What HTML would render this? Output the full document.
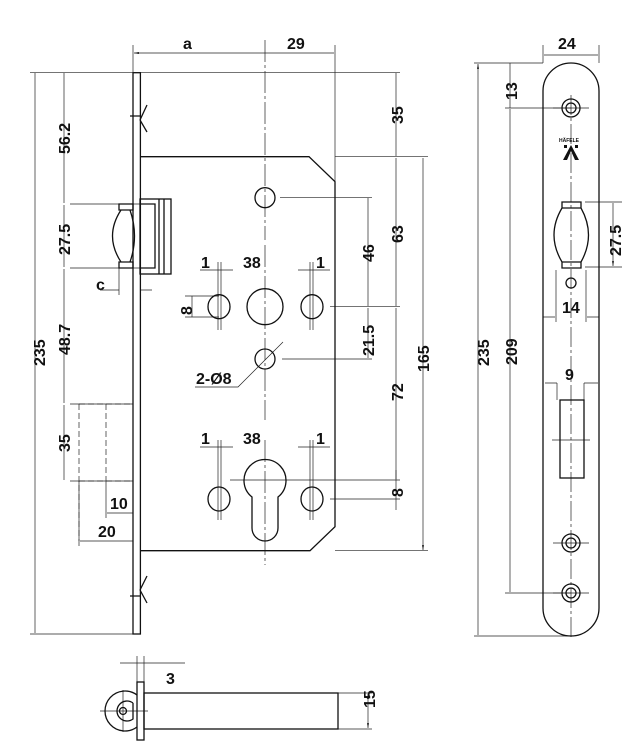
<!DOCTYPE html>
<html><head><style>body{margin:0;background:#fff}svg{display:block}text{font-family:"Liberation Sans",Arial,sans-serif;font-weight:bold;font-size:16px;fill:#111}</style></head>
<body>
<svg width="642" height="756" viewBox="0 0 642 756" xmlns="http://www.w3.org/2000/svg">
<defs><marker id="a" viewBox="0 0 10 10" refX="10" refY="5" markerWidth="7" markerHeight="7" orient="auto-start-reverse"><path d="M0,3 L10,5 L0,7z" fill="#111"/></marker></defs>
<g fill="none" stroke="#222" stroke-width="0.7">
<path d="M30,72.7H140 M140,72.7H400 M335,45V181 M133,45V72 M335,156.7H428 M280,197.7H372 M330,306.7H400 M282,359H372 M230,480H400 M330,499H400 M335,550.7H428 M30,634H133 M70,204H140 M70,268H140 M70,404H133 M70,481H133 M106,481V518 M79,481V546 M119,265V295"/>
<g marker-start="url(#a)" marker-end="url(#a)">
<path d="M134,53H265 M265,53H334 M35,73V633 M64,73V203 M64,205V267 M64,269V403 M64,405V480 M396,73V156 M396,158V306 M396,308V479 M368,198V306 M368,308V358 M423,158V550"/>
</g>
<path d="M396,480V499 M396,470V510 M107,513H133 M80,541H133 M100,290H119 M140,290H152"/>
<path d="M200,270H233 M298,270H330 M200,447H233 M298,447H330 M218,262V330 M221,262V330 M310,262V330 M313,262V330 M218,440V520 M221,440V520 M310,440V520 M313,440V520" />
<path d="M185,296H219 M185,317H219 M192,296V317" />
<path d="M283,342 L238,387 H195"/>
<path d="M265,40V240" stroke-dasharray="22,3,3,3"/>
<path d="M265,245V420" stroke-dasharray="22,3,3,3"/>
<path d="M265,440V565" stroke-dasharray="22,3,3,3"/>
<path d="M79,404V541 M106,404V481 M79,404H133 M79,481H133" stroke-dasharray="6,3"/>
</g>
<g fill="none" stroke="#111" stroke-width="1.3">
<rect x="133" y="72.7" width="7.4" height="561.3"/>
<path d="M140,156.7H309L335,181.7V526.7L310,550.7H140"/>
<circle cx="265" cy="197.7" r="10"/>
<circle cx="265" cy="306.7" r="18"/>
<ellipse cx="219" cy="306.7" rx="11" ry="12"/>
<ellipse cx="312" cy="306.7" rx="11" ry="12"/>
<circle cx="265" cy="359" r="10"/>
<ellipse cx="219" cy="499" rx="11" ry="12"/>
<ellipse cx="312" cy="499" rx="11" ry="12"/>
<path d="M252,497 A21,21 0 1 1 278,497 V528 A13,13 0 0 1 252,528Z"/>
<rect x="140" y="199" width="31" height="75"/>
<path d="M140,204H155V268H140 M159,199V274 M164,199V274"/>
<path d="M119,204H133V210H119Z M119,262H133V268H119Z M121,210Q104,236 121,262 M130,210Q139,236 130,262"/>
<path d="M140,120L147,105 M140,120L147,132 M130,116H140 M140,590L147,576 M140,590L147,603 M130,596H140"/>
</g>
<g font-size="16">
<text x="183" y="49">a</text><text x="287" y="49">29</text>
<text x="201" y="268">1</text><text x="243" y="268">38</text><text x="316" y="268">1</text>
<text x="201" y="444">1</text><text x="243" y="444">38</text><text x="316" y="444">1</text>
<text x="196" y="384">2-Ø8</text>
<text x="96" y="290">c</text>
<text x="110" y="509">10</text><text x="98" y="537">20</text>
<text x="166" y="684">3</text>
</g>
<g font-size="16">
<text transform="translate(45,366) rotate(-90)">235</text>
<text transform="translate(70,154) rotate(-90)">56.2</text>
<text transform="translate(70,255) rotate(-90)">27.5</text>
<text transform="translate(70,355) rotate(-90)">48.7</text>
<text transform="translate(70,452) rotate(-90)">35</text>
<text transform="translate(192,315) rotate(-90)">8</text>
<text transform="translate(403,124) rotate(-90)">35</text>
<text transform="translate(403,243) rotate(-90)">63</text>
<text transform="translate(374,262) rotate(-90)">46</text>
<text transform="translate(374,356) rotate(-90)">21.5</text>
<text transform="translate(429,372) rotate(-90)">165</text>
<text transform="translate(403,401) rotate(-90)">72</text>
<text transform="translate(403,497) rotate(-90)">8</text>
<text transform="translate(489,366) rotate(-90)">235</text>
<text transform="translate(517,365) rotate(-90)">209</text>
<text transform="translate(517,100) rotate(-90)">13</text>
<text transform="translate(621,256) rotate(-90)">27.5</text>
<text transform="translate(375,708) rotate(-90)">15</text>
<text x="558" y="49">24</text><text x="562" y="313">14</text><text x="565" y="380">9</text>
</g>
<g fill="none" stroke="#222" stroke-width="0.7">
<path d="M474,63H543 M474,636H571 M505,108H571 M505,593H571 M543,45V63 M599,45V63 M585,202H622 M585,267H622 M556,270V322 M586,270V322 M557,383V400 M584,383V400"/>
<g marker-start="url(#a)" marker-end="url(#a)">
<path d="M478,64V635 M510,109V592 M544,55H598 M613,203V266"/>
</g>
<path d="M510,63V108 M543,317H555 M587,317H599 M545,383H557 M584,383H598"/>
<path d="M571,95V640" stroke-dasharray="20,3,3,3"/>
<path d="M553,108H589 M553,543H589 M553,593H589 M552,440H590"/>
</g>
<g fill="none" stroke="#111" stroke-width="1.3">
<path d="M543,91A28,28 0 0 1 599,91V608A28,28 0 0 1 543,608Z"/>
<circle cx="571" cy="108" r="9"/><circle cx="571" cy="108" r="5"/>
<circle cx="571" cy="543" r="9"/><circle cx="571" cy="543" r="5"/>
<circle cx="571" cy="593" r="9"/><circle cx="571" cy="593" r="5"/>
<path d="M562,202H581V208H562Z M562,262H581V268H562Z M562,208Q546,235 562,262 M581,208Q596,235 581,262"/>
<circle cx="571" cy="283" r="5"/>
<rect x="560" y="400" width="24" height="78"/>
</g>
<text x="559" y="142" style="font-size:5px">HÄFELE</text>
<path d="M563,160L571,145L579,160H575L571,151L567,160Z" fill="#111"/>
<rect x="564" y="145" width="3" height="3" fill="#111"/><rect x="575" y="145" width="3" height="3" fill="#111"/>
<g fill="none" stroke="#222" stroke-width="0.7">
<path d="M120,663H185 M137,656V682 M144,656V682 M338,693H372 M338,729H372 M100,711H148 M123,690V732"/>
<g marker-start="url(#a)" marker-end="url(#a)"><path d="M368,694V728"/></g>
</g>
<g fill="none" stroke="#111" stroke-width="1.3">
<rect x="137" y="682" width="7" height="58"/>
<rect x="144" y="693" width="194" height="36"/>
<path d="M137,695A20,20 0 1 0 137,727"/>
<path d="M133,703A10,10 0 1 0 133,719 V703"/>
<circle cx="123" cy="711" r="3.5"/>
</g>
</svg>
</body></html>
